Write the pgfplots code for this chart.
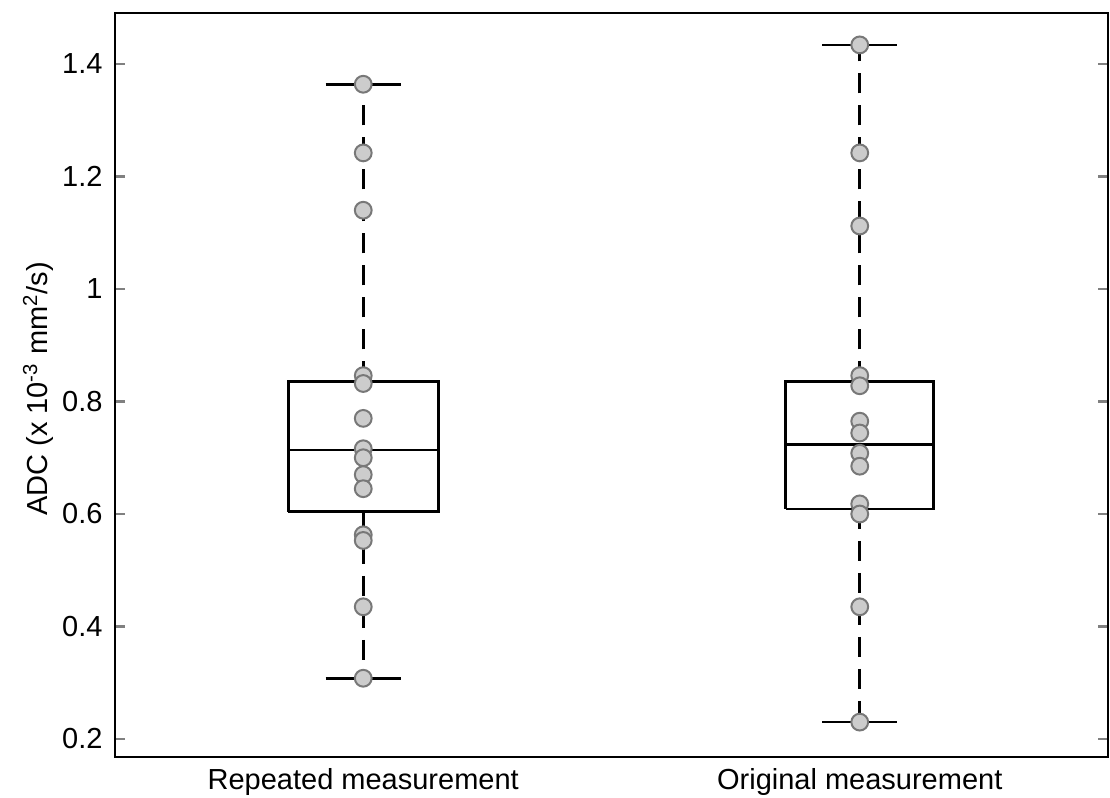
\documentclass[border=0pt]{standalone}
\usepackage{pgfplots}
\pgfplotsset{compat=1.18}
\usepackage{fontspec}
\setmainfont{Liberation Sans}

\definecolor{ptfill}{gray}{0.80}
\definecolor{ptedge}{gray}{0.47}

\begin{document}
\begin{tikzpicture}
\begin{axis}[
  scale only axis,
  width=496.5pt, height=372pt,
  xmin=0.5, xmax=2.5,
  ymin=0.168, ymax=1.4907,
  xtick={1,2},
  xticklabels={Repeated measurement, Original measurement},
  xtick style={draw=none},
  ytick={0.2,0.4,...,1.4},
  ytick pos=both,
  tick align=inside,
  major tick length=5pt,
  ytick style={line width=1.2pt},
  axis line style={line width=1.1pt},
  /pgf/number format/assume math mode=true,
  tick label style={font=\fontsize{14.5}{17}\selectfont},
  yticklabel style={xshift=-2.7pt},
  xticklabel style={yshift=-2pt},
  ylabel={ADC (x 10\textsuperscript{-3} mm\textsuperscript{2}/s)},
  ylabel style={font=\fontsize{14.5}{17}\selectfont, yshift=-2.5pt, xshift=-2pt},
  clip=false,
]
% individual observations
\addplot[only marks, mark=*, mark size=4.2pt,
  mark options={fill=ptfill, draw=ptedge, line width=1pt}]
  coordinates {
  (1,1.364) (1,1.242) (1,1.140) (1,0.846) (1,0.832) (1,0.770) (1,0.716)
  (1,0.700) (1,0.670) (1,0.645) (1,0.563) (1,0.553) (1,0.435) (1,0.308)
  (2,1.434) (2,1.242) (2,1.112) (2,0.846) (2,0.828) (2,0.765) (2,0.744)
  (2,0.708) (2,0.685) (2,0.618) (2,0.600) (2,0.435) (2,0.230)
  };

% Repeated measurement: box, median, whiskers, caps
\addplot[black, line width=1.3pt] coordinates {(0.849,0.604) (1.151,0.604) (1.151,0.836) (0.849,0.836) (0.849,0.604)};
\addplot[black, line width=1.3pt] coordinates {(0.849,0.714) (1.151,0.714)};
\addplot[black, line width=1.3pt, dash pattern=on 10pt off 6pt] coordinates {(1,0.836) (1,1.364)};
\addplot[black, line width=1.3pt, dash pattern=on 10pt off 6pt] coordinates {(1,0.604) (1,0.308)};
\addplot[black, line width=1.3pt] coordinates {(0.924,1.364) (1.076,1.364)};
\addplot[black, line width=1.3pt] coordinates {(0.924,0.308) (1.076,0.308)};

% Original measurement
\addplot[black, line width=1.3pt] coordinates {(1.851,0.609) (2.149,0.609) (2.149,0.836) (1.851,0.836) (1.851,0.609)};
\addplot[black, line width=1.3pt] coordinates {(1.851,0.724) (2.149,0.724)};
\addplot[black, line width=1.3pt, dash pattern=on 10pt off 6pt] coordinates {(2,0.836) (2,1.434)};
\addplot[black, line width=1.3pt, dash pattern=on 10pt off 6pt] coordinates {(2,0.609) (2,0.230)};
\addplot[black, line width=1.3pt] coordinates {(1.924,1.434) (2.076,1.434)};
\addplot[black, line width=1.3pt] coordinates {(1.924,0.230) (2.076,0.230)};
\end{axis}
\pgfresetboundingbox
\path[use as bounding box] (current axis.south west) ++(-57.5pt,-20.5pt)
  rectangle ([shift={(1pt,6.5pt)}]current axis.north east);
\end{tikzpicture}
\end{document}
